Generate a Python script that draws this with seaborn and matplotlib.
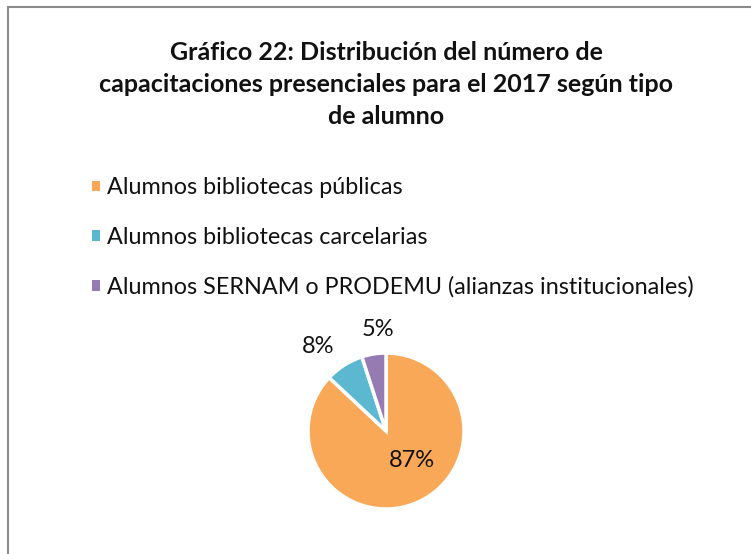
import matplotlib
matplotlib.use("Agg")
import matplotlib.pyplot as plt
from matplotlib.patches import Patch, Rectangle
import seaborn as sns

# datos del gráfico
categorias = ["Alumnos bibliotecas públicas",
              "Alumnos bibliotecas carcelarias",
              "Alumnos SERNAM o PRODEMU (alianzas institucionales)"]
porcentajes = [87, 8, 5]
colores = ["#F9A857", "#5BB8D0", "#957BB2"]
titulo = ("Gráfico 22: Distribución del número de\n"
          "capacitaciones presenciales para el 2017 según tipo\n"
          "de alumno")

sns.set_theme(style="white")
plt.rcParams['font.family'] = ['Lato', 'DejaVu Sans']

W, H = 751, 554
fig = plt.figure(figsize=(W / 100, H / 100), dpi=100)

# ============================
# pie
# ============================
cx, cy, r = 386, 431, 78
side = 2.5 * r
ax = fig.add_axes([(cx - side / 2) / W, (H - cy - side / 2) / H, side / W, side / H])
wedges, textos, autotextos = ax.pie(
    porcentajes, colors=colores, startangle=90, counterclock=False,
    autopct="%1.0f%%", wedgeprops=dict(edgecolor="white", linewidth=2.5),
    textprops=dict(fontsize=17, color="#111111"))
ax.set_xlim(-1.25, 1.25)
ax.set_ylim(-1.25, 1.25)
ax.set_aspect("equal")

# posición de las etiquetas como en el original
pos_etiquetas = [(0.33, -0.38), (-0.87, 1.08), (-0.10, 1.30)]
for t, p in zip(autotextos, pos_etiquetas):
    t.set_position(p)

# ============================
# título y leyenda
# ============================
fig.text(386 / W, 1 - 41 / H, titulo, ha="center", va="top",
         fontsize=18, fontweight="bold", color="#111111", linespacing=1.48)

handles = [Patch(facecolor=c, edgecolor="none") for c in colores]
fig.legend(handles, categorias, loc="upper left",
           bbox_to_anchor=(83 / W, 1 - 168 / H), frameon=False,
           fontsize=16.8, handlelength=0.32, handleheight=0.32,
           handletextpad=0.3, labelspacing=1.22, borderaxespad=0,
           labelcolor="#111111")

# borde del área del gráfico
fig.add_artist(Rectangle((7.5 / W, -0.1), 1.2, 1 - 7.5 / H + 0.1,
                         transform=fig.transFigure, fill=False,
                         edgecolor="#8C8C8C", linewidth=1.5))

fig.savefig("out.png", dpi=100, facecolor="white")
